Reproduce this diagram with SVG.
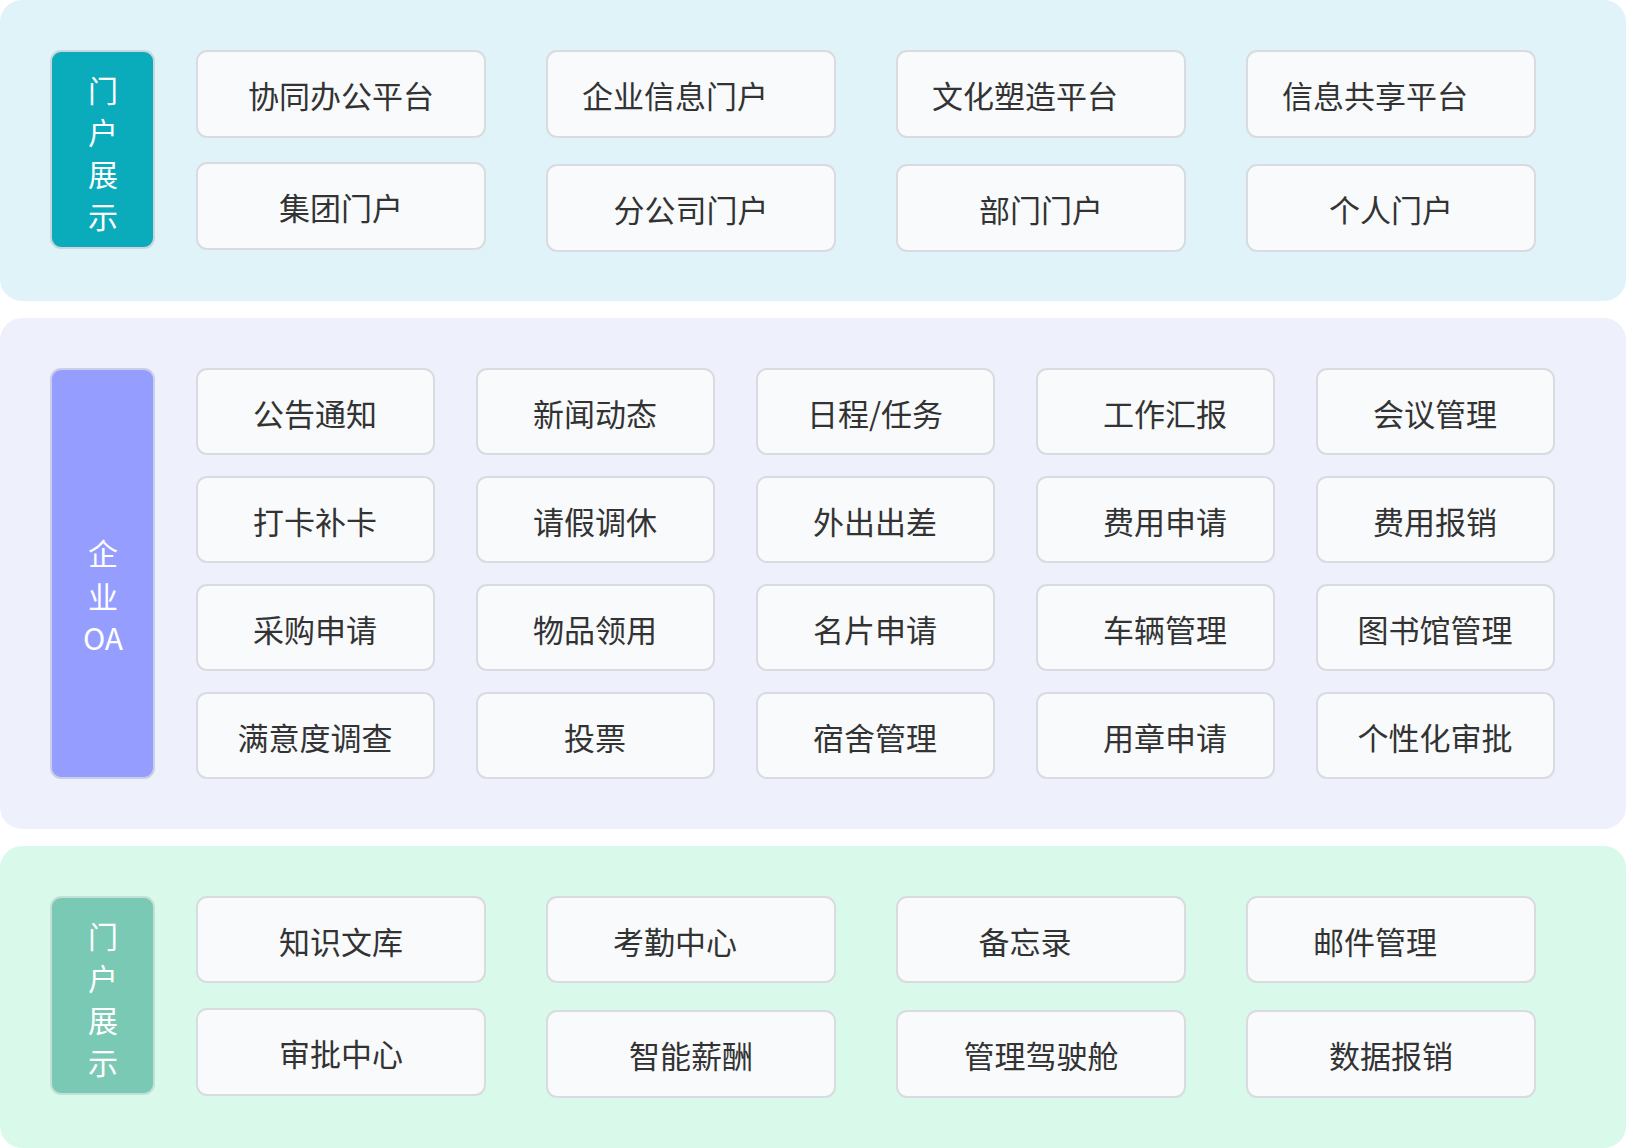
<svg xmlns="http://www.w3.org/2000/svg" width="1626" height="1148" viewBox="0 0 1626 1148">
<style>
.b{fill:#f8fafc;stroke:#d9dbe0;stroke-width:2}
.t{font-family:"Noto Sans CJK SC",sans-serif;font-size:31px;fill:#333;text-anchor:middle;dominant-baseline:central}
.l{font-family:"Noto Sans CJK SC",sans-serif;font-size:30px;fill:#fff;text-anchor:middle;dominant-baseline:central}
</style>
<rect x="0" y="0" width="1626" height="301" rx="22" fill="#dff3f8"/>
<rect x="0" y="318" width="1626" height="511" rx="22" fill="#eef0fc"/>
<rect x="0" y="846" width="1626" height="302" rx="22" fill="#d9f9ea"/>
<g id="label1"><rect x="51" y="51" width="103" height="197" rx="10" fill="#0aabba" stroke="#c9d6de" stroke-width="2"/>
<text class="l"><tspan x="103" y="89">门</tspan><tspan x="103" y="131">户</tspan><tspan x="103" y="173">展</tspan><tspan x="103" y="215">示</tspan></text></g>
<g id="label2"><rect x="51" y="369" width="103" height="409" rx="10" fill="#959dff" stroke="#c9cfe6" stroke-width="2"/>
<text class="l"><tspan x="103" y="552">企</tspan><tspan x="103" y="595">业</tspan><tspan x="103" y="637">OA</tspan></text></g>
<g id="label3"><rect x="51" y="897" width="103" height="197" rx="10" fill="#7ac9b4" stroke="#c4e0d6" stroke-width="2"/>
<text class="l"><tspan x="103" y="935">门</tspan><tspan x="103" y="977">户</tspan><tspan x="103" y="1019">展</tspan><tspan x="103" y="1061">示</tspan></text></g>
<g id="top">
<g id="n1"><rect class="b" x="197" y="51" width="288" height="86" rx="10"/><text class="t" x="341" y="94">协同办公平台</text></g>
<g id="n2"><rect class="b" x="547" y="51" width="288" height="86" rx="10"/><text class="t" x="675" y="94">企业信息门户</text></g>
<g id="n3"><rect class="b" x="897" y="51" width="288" height="86" rx="10"/><text class="t" x="1025" y="94">文化塑造平台</text></g>
<g id="n4"><rect class="b" x="1247" y="51" width="288" height="86" rx="10"/><text class="t" x="1375" y="94">信息共享平台</text></g>
<g id="n5"><rect class="b" x="197" y="163" width="288" height="86" rx="10"/><text class="t" x="341" y="206">集团门户</text></g>
<g id="n6"><rect class="b" x="547" y="165" width="288" height="86" rx="10"/><text class="t" x="691" y="208">分公司门户</text></g>
<g id="n7"><rect class="b" x="897" y="165" width="288" height="86" rx="10"/><text class="t" x="1041" y="208">部门门户</text></g>
<g id="n8"><rect class="b" x="1247" y="165" width="288" height="86" rx="10"/><text class="t" x="1391" y="208">个人门户</text></g>
</g>
<g id="mid">
<g id="m1"><rect class="b" x="197" y="369" width="237" height="85" rx="10"/><text class="t" x="315" y="412">公告通知</text></g>
<g id="m2"><rect class="b" x="477" y="369" width="237" height="85" rx="10"/><text class="t" x="595" y="412">新闻动态</text></g>
<g id="m3"><rect class="b" x="757" y="369" width="237" height="85" rx="10"/><text class="t" x="875" y="412">日程/任务</text></g>
<g id="m4"><rect class="b" x="1037" y="369" width="237" height="85" rx="10"/><text class="t" x="1165" y="412">工作汇报</text></g>
<g id="m5"><rect class="b" x="1317" y="369" width="237" height="85" rx="10"/><text class="t" x="1435" y="412">会议管理</text></g>
<g id="m6"><rect class="b" x="197" y="477" width="237" height="85" rx="10"/><text class="t" x="315" y="520">打卡补卡</text></g>
<g id="m7"><rect class="b" x="477" y="477" width="237" height="85" rx="10"/><text class="t" x="595" y="520">请假调休</text></g>
<g id="m8"><rect class="b" x="757" y="477" width="237" height="85" rx="10"/><text class="t" x="875" y="520">外出出差</text></g>
<g id="m9"><rect class="b" x="1037" y="477" width="237" height="85" rx="10"/><text class="t" x="1165" y="520">费用申请</text></g>
<g id="m10"><rect class="b" x="1317" y="477" width="237" height="85" rx="10"/><text class="t" x="1435" y="520">费用报销</text></g>
<g id="m11"><rect class="b" x="197" y="585" width="237" height="85" rx="10"/><text class="t" x="315" y="628">采购申请</text></g>
<g id="m12"><rect class="b" x="477" y="585" width="237" height="85" rx="10"/><text class="t" x="595" y="628">物品领用</text></g>
<g id="m13"><rect class="b" x="757" y="585" width="237" height="85" rx="10"/><text class="t" x="875" y="628">名片申请</text></g>
<g id="m14"><rect class="b" x="1037" y="585" width="237" height="85" rx="10"/><text class="t" x="1165" y="628">车辆管理</text></g>
<g id="m15"><rect class="b" x="1317" y="585" width="237" height="85" rx="10"/><text class="t" x="1435" y="628">图书馆管理</text></g>
<g id="m16"><rect class="b" x="197" y="693" width="237" height="85" rx="10"/><text class="t" x="315" y="736">满意度调查</text></g>
<g id="m17"><rect class="b" x="477" y="693" width="237" height="85" rx="10"/><text class="t" x="595" y="736">投票</text></g>
<g id="m18"><rect class="b" x="757" y="693" width="237" height="85" rx="10"/><text class="t" x="875" y="736">宿舍管理</text></g>
<g id="m19"><rect class="b" x="1037" y="693" width="237" height="85" rx="10"/><text class="t" x="1165" y="736">用章申请</text></g>
<g id="m20"><rect class="b" x="1317" y="693" width="237" height="85" rx="10"/><text class="t" x="1435" y="736">个性化审批</text></g>
</g>
<g id="bot">
<g id="k1"><rect class="b" x="197" y="897" width="288" height="85" rx="10"/><text class="t" x="341" y="940">知识文库</text></g>
<g id="k2"><rect class="b" x="547" y="897" width="288" height="85" rx="10"/><text class="t" x="675" y="940">考勤中心</text></g>
<g id="k3"><rect class="b" x="897" y="897" width="288" height="85" rx="10"/><text class="t" x="1025" y="940">备忘录</text></g>
<g id="k4"><rect class="b" x="1247" y="897" width="288" height="85" rx="10"/><text class="t" x="1375" y="940">邮件管理</text></g>
<g id="k5"><rect class="b" x="197" y="1009" width="288" height="86" rx="10"/><text class="t" x="341" y="1052">审批中心</text></g>
<g id="k6"><rect class="b" x="547" y="1011" width="288" height="86" rx="10"/><text class="t" x="691" y="1054">智能薪酬</text></g>
<g id="k7"><rect class="b" x="897" y="1011" width="288" height="86" rx="10"/><text class="t" x="1041" y="1054">管理驾驶舱</text></g>
<g id="k8"><rect class="b" x="1247" y="1011" width="288" height="86" rx="10"/><text class="t" x="1391" y="1054">数据报销</text></g>
</g>
<g id="connectors"/>
</svg>
